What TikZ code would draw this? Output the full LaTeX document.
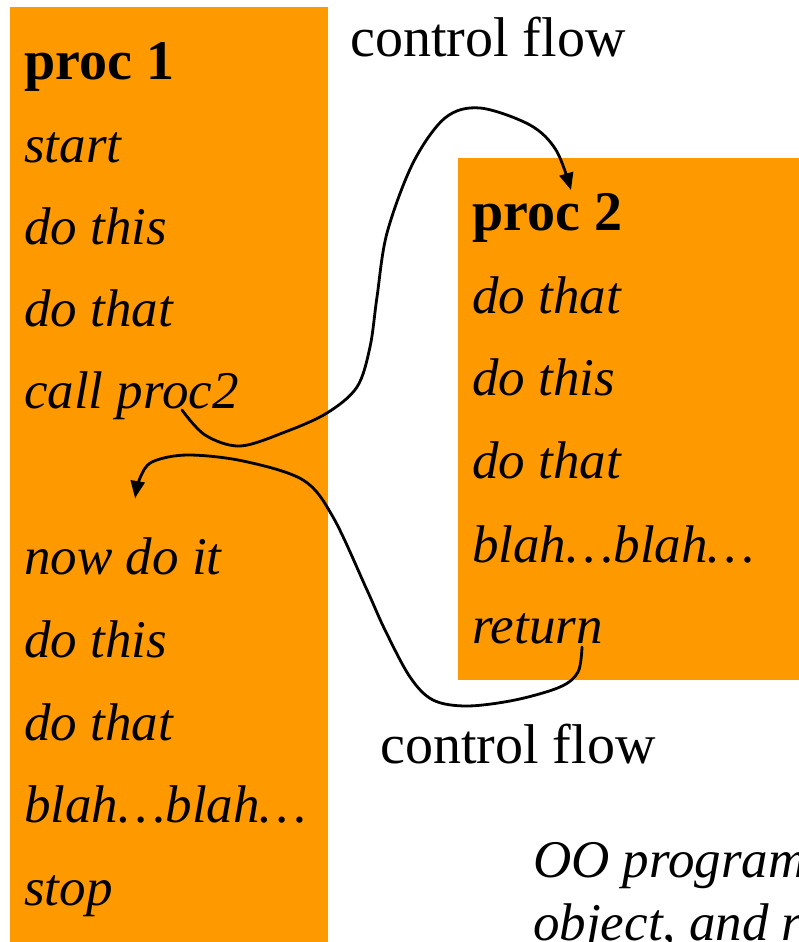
\documentclass[tikz,border=0pt]{standalone}
\usepackage{fontspec}
\setmainfont{Liberation Serif}
\usetikzlibrary{arrows.meta}
\definecolor{procorange}{HTML}{FF9900}

\begin{document}
\begin{tikzpicture}[x=1pt,y=-1pt,
  procbox/.style={fill=procorange, draw=none, inner sep=0, anchor=north west},
  stepline/.style={anchor=base west, inner sep=0, font=\fontsize{53}{60}\selectfont\itshape},
  headline/.style={anchor=base west, inner sep=0, font=\fontsize{56}{60}\selectfont\bfseries},
  flowlabel/.style={anchor=base west, inner sep=0, font=\fontsize{56}{60}\selectfont},
  flow/.style={line width=2.8pt, line cap=round, -{Triangle[length=17pt,width=14pt]}}]

\useasboundingbox (0,0) rectangle (799,942);
\clip (0,0) rectangle (799,942);

% the two procedure panels
\node[procbox, minimum width=318pt, minimum height=945pt] (p1box) at (10,7) {};
\node[procbox, minimum width=345pt, minimum height=522pt] (p2box) at (458,158) {};

% procedure 1
\node[headline] (p1head) at (24,80) {proc 1};
\node[stepline] (p1a) at (24,162) {start};
\node[stepline] (p1b) at (24,244) {do this};
\node[stepline] (p1c) at (24,326) {do that};
\node[stepline] (p1call) at (24,408) {call proc2};
\node[stepline] (p1d) at (24,574) {now do it};
\node[stepline] (p1e) at (24,657) {do this};
\node[stepline] (p1f) at (24,740) {do that};
\node[stepline] (p1g) at (24,822) {blah\ldots blah\ldots};
\node[stepline] (p1h) at (24,905) {stop};

% procedure 2
\node[headline] (p2head) at (472,230) {proc 2};
\node[stepline] (p2a) at (472,313) {do that};
\node[stepline] (p2b) at (472,395) {do this};
\node[stepline] (p2c) at (472,478) {do that};
\node[stepline] (p2d) at (472,562) {blah\ldots blah\ldots};
\node[stepline] (p2ret) at (472,643) {return};

% labels
\node[flowlabel] (flowtop) at (350,57) {control flow};
\node[flowlabel] (flowbot) at (380,763) {control flow};
\node[stepline] (oo1) at (533,877) {OO programming};
\node[stepline] (oo2) at (533,940) {object, and runs};

% connector ends
\coordinate (callout) at (182,410);
\coordinate (p2entry) at (571,190);
\coordinate (retout) at (582,647);
\coordinate (resume) at (135,498);

% call: proc 1 -> proc 2
\draw[flow] plot[smooth, tension=0.55] coordinates {
  (callout) (205,435) (240,446) (285,432) (327,413) (357,387) (370,347)
  (377,297) (387,233) (413,163) (445,118) (480,108) (530,125) (556,150) (p2entry)};

% return: proc 2 -> proc 1
\draw[flow] plot[smooth, tension=0.55] coordinates {
  (retout) (578,672) (560,687) (515,700) (467,706) (433,700) (410,677)
  (385,630) (367,590) (333,517) (303,480) (243,461) (187,455) (152,462) (140,478) (resume)};
\end{tikzpicture}
\end{document}
